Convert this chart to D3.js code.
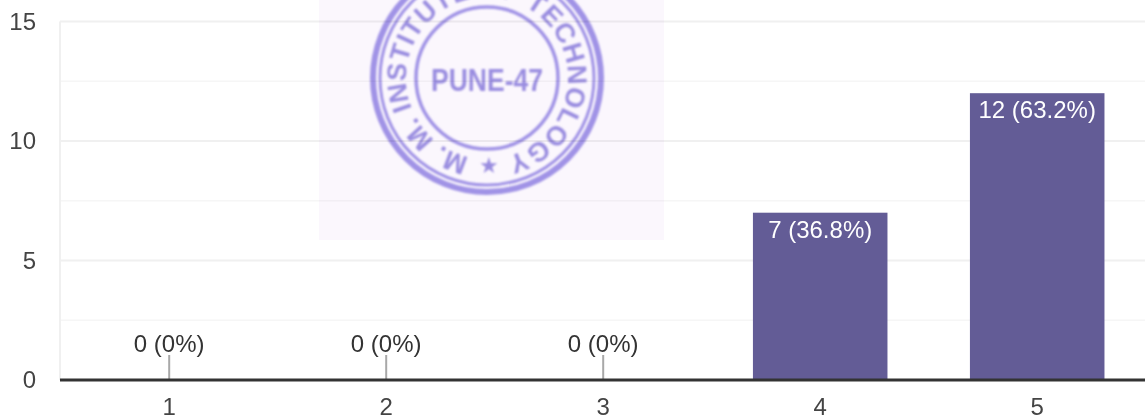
<!DOCTYPE html>
<html>
<head>
<meta charset="utf-8">
<script src="https://cdn.jsdelivr.net/npm/d3@7"></script>
<style>
  html, body { margin: 0; padding: 0; background: #fff; overflow: hidden; }
  svg { display: block; }
  text { font-family: "Liberation Sans", Arial, sans-serif; }
</style>
</head>
<body>
<div id="chart"></div>
<script>
var categories = ['1', '2', '3', '4', '5'],
    counts = [0, 0, 0, 7, 12],
    labels = ['0 (0%)', '0 (0%)', '0 (0%)', '7 (36.8%)', '12 (63.2%)'],
    yTicks = [0, 5, 10, 15],
    yMinorTicks = [2.5, 7.5, 12.5],
    stampCenter = 'PUNE-47',
    stampRing = 'M. M. INSTITUTE OF TECHNOLOGY';

var W = 1145, H = 419,
    plotLeft = 60, plotRight = 1145, plotTop = 21.5, plotBottom = 380,
    stampX = 487, stampY = 78;

var svg = d3.select('#chart').append('svg')
    .attr('width', W)
    .attr('height', H);

var x = d3.scaleBand().domain(categories).range([plotLeft + 0.7, plotRight + 0.7]).paddingInner(0.38).paddingOuter(0.19),
    y = d3.scaleLinear().domain([0, 15]).range([plotBottom, plotTop]);

function center(c) {
  return x(c) + x.bandwidth() / 2;
}

// Grid
svg.append('g').selectAll('line')
    .data(yMinorTicks)
    .enter().append('line')
    .attr('x1', plotLeft).attr('x2', plotRight)
    .attr('y1', function(d) { return y(d); })
    .attr('y2', function(d) { return y(d); })
    .attr('stroke', '#f6f6f6')
    .attr('stroke-width', 1.5);

svg.append('g').selectAll('line')
    .data(yTicks.slice(1))
    .enter().append('line')
    .attr('x1', plotLeft).attr('x2', plotRight)
    .attr('y1', function(d) { return y(d); })
    .attr('y2', function(d) { return y(d); })
    .attr('stroke', '#f0f0f0')
    .attr('stroke-width', 2);

svg.append('line')
    .attr('x1', plotLeft).attr('x2', plotLeft)
    .attr('y1', plotTop).attr('y2', plotBottom)
    .attr('stroke', '#f0f0f0')
    .attr('stroke-width', 2);

// Y axis
var yAxis = svg.append('g')
    .attr('transform', 'translate(' + plotLeft + ',0)')
    .call(d3.axisLeft(y).tickValues(yTicks).tickSize(0).tickPadding(24));
yAxis.select('.domain').remove();
yAxis.selectAll('text')
    .attr('font-size', 24)
    .attr('font-family', '"Liberation Sans", Arial, sans-serif')
    .attr('fill', '#444');

// Stamp, pasted over the chart
var stamp = svg.append('g').style('mix-blend-mode', 'multiply');
var defs = svg.append('defs');
defs.append('filter').attr('id', 'soft')
    .append('feGaussianBlur').attr('stdDeviation', 0.8);

var ringPath = d3.path();
ringPath.arc(stampX, stampY, 81, Math.PI / 2, Math.PI / 2 + 2 * Math.PI * 0.999);
defs.append('path').attr('id', 'ring').attr('d', ringPath.toString());

stamp.append('rect')
    .attr('x', 319).attr('y', 0)
    .attr('width', 345).attr('height', 240)
    .attr('fill', '#fbf7fd');

var ink = stamp.append('g')
    .attr('filter', 'url(#soft)')
    .attr('fill', 'none')
    .attr('stroke', '#a093e6');
ink.append('circle').attr('cx', stampX).attr('cy', stampY).attr('r', 114).attr('stroke-width', 6);
ink.append('circle').attr('cx', stampX).attr('cy', stampY).attr('r', 107).attr('stroke-width', 3);
ink.append('circle').attr('cx', stampX).attr('cy', stampY).attr('r', 71).attr('stroke-width', 3.5);
ink.append('text')
    .attr('x', stampX).attr('y', 91)
    .attr('text-anchor', 'middle')
    .attr('font-size', 31)
    .attr('font-weight', 'bold')
    .attr('textLength', 112)
    .attr('lengthAdjust', 'spacingAndGlyphs')
    .attr('fill', '#9a8de0').attr('stroke', 'none')
    .text(stampCenter);
ink.append('text')
    .attr('font-size', 27)
    .attr('font-weight', 'bold')
    .attr('fill', '#9a8de0').attr('stroke', 'none')
    .append('textPath')
    .attr('href', '#ring')
    .attr('startOffset', 18)
    .attr('textLength', 470)
    .text(stampRing);
ink.append('text')
    .attr('x', stampX + 2).attr('y', 173)
    .attr('text-anchor', 'middle')
    .attr('font-size', 22)
    .attr('fill', '#9a8de0').attr('stroke', 'none')
    .text('★');

// Bars
svg.append('g').selectAll('rect')
    .data(counts)
    .enter().append('rect')
    .attr('x', function(d, i) { return x(categories[i]); })
    .attr('y', function(d) { return y(d); })
    .attr('width', x.bandwidth())
    .attr('height', function(d) { return plotBottom - y(d); })
    .attr('fill', '#635c96');

// Stubs for the empty categories
svg.append('g').selectAll('line')
    .data(categories.filter(function(c, i) { return counts[i] === 0; }))
    .enter().append('line')
    .attr('x1', center)
    .attr('x2', center)
    .attr('y1', 355).attr('y2', plotBottom)
    .attr('stroke', '#a8a8a8')
    .attr('stroke-width', 2);

// Value labels
svg.append('g').selectAll('text')
    .data(labels)
    .enter().append('text')
    .attr('x', function(d, i) { return center(categories[i]); })
    .attr('y', function(d, i) { return counts[i] === 0 ? 352 : y(counts[i]) + 25; })
    .attr('text-anchor', 'middle')
    .attr('font-size', 24)
    .attr('fill', function(d, i) { return counts[i] === 0 ? '#333' : '#fff'; })
    .text(function(d) { return d; });

// X axis
var xAxis = svg.append('g')
    .attr('transform', 'translate(0,' + plotBottom + ')')
    .call(d3.axisBottom(x).tickSize(0).tickPadding(18));
xAxis.select('.domain')
    .attr('d', 'M' + plotLeft + ',0H' + plotRight)
    .attr('stroke', '#333')
    .attr('stroke-width', 3);
xAxis.selectAll('text')
    .attr('font-size', 24)
    .attr('font-family', '"Liberation Sans", Arial, sans-serif')
    .attr('fill', '#444');
</script>
</body>
</html>
